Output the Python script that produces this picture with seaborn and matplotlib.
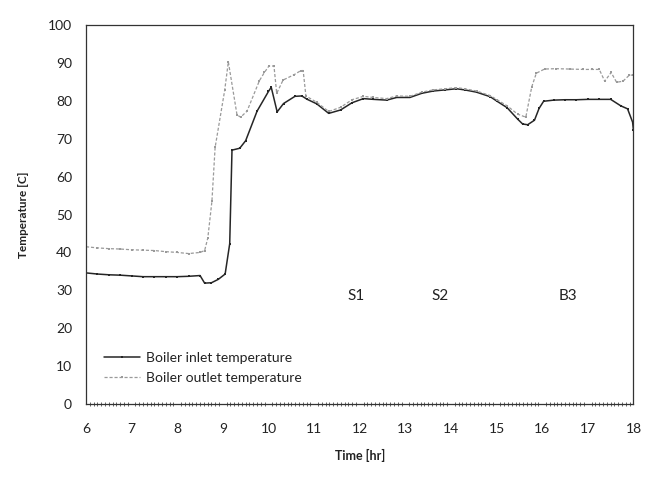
import matplotlib
matplotlib.use("Agg")
import matplotlib.pyplot as plt
from matplotlib.ticker import MultipleLocator
import numpy as np
import pandas as pd
import seaborn as sns

# Boiler inlet temperature [C] against time of day [hr]
inlet_time = [6.0, 6.25, 6.5, 6.75, 7.0, 7.25, 7.5, 7.75, 8.0, 8.25, 8.5, 8.6,
              8.75, 8.9, 9.05, 9.15, 9.2, 9.37, 9.5, 9.75, 10.0, 10.06, 10.19,
              10.33, 10.58, 10.73, 10.85, 11.06, 11.32, 11.58, 11.83, 12.08,
              12.3, 12.59, 12.81, 13.1, 13.36, 13.61, 13.87, 14.12, 14.3, 14.56,
              14.86, 15.01, 15.23, 15.46, 15.57, 15.68, 15.83, 15.93, 16.03,
              16.25, 16.5, 16.75, 17.0, 17.25, 17.5, 17.72, 17.87, 17.98, 18.0]
inlet_temp = [34.6, 34.3, 34.1, 34.0, 33.8, 33.6, 33.6, 33.6, 33.6, 33.7, 33.9, 31.9,
              32.0, 32.9, 34.3, 42.3, 67.0, 67.5, 69.5, 77.3, 82.5, 83.6, 77.1,
              79.3, 81.2, 81.3, 80.4, 79.2, 76.7, 77.6, 79.5, 80.6,
              80.4, 80.2, 80.9, 80.9, 82.0, 82.6, 82.9, 83.2, 82.9, 82.3,
              81.1, 79.9, 78.2, 75.2, 73.9, 73.7, 74.9, 78.0, 79.9,
              80.2, 80.3, 80.3, 80.4, 80.4, 80.4, 78.7, 77.9, 74.4, 72.2]

# Boiler outlet temperature [C] against time of day [hr]
outlet_time = [6.0, 6.25, 6.5, 6.75, 7.0, 7.25, 7.5, 7.75, 8.0, 8.25, 8.5, 8.6,
               8.67, 8.76, 8.83, 9.04, 9.12, 9.31, 9.39, 9.53, 9.8, 9.91, 10.01,
               10.12, 10.18, 10.32, 10.56, 10.71, 10.76, 10.82, 11.06, 11.32,
               11.58, 11.83, 12.08, 12.3, 12.59, 12.81, 13.1, 13.36, 13.61,
               13.87, 14.12, 14.3, 14.56, 14.86, 15.01, 15.23, 15.46, 15.64,
               15.77, 15.87, 16.05, 16.3, 16.6, 16.9, 17.1, 17.25, 17.37, 17.51,
               17.63, 17.77, 17.91, 18.0]
outlet_temp = [41.5, 41.2, 41.0, 40.9, 40.7, 40.6, 40.5, 40.2, 40.0, 39.7, 40.0, 40.5,
               43.8, 53.5, 67.7, 82.8, 90.3, 76.3, 75.7, 77.3, 85.3, 87.5, 89.2,
               89.2, 82.0, 85.5, 86.9, 88.0, 88.0, 81.3, 79.6, 77.2,
               78.3, 80.3, 81.2, 80.9, 80.6, 81.3, 81.2, 82.3, 82.9,
               83.2, 83.5, 83.2, 82.6, 81.4, 80.3, 78.7, 76.5, 75.7,
               83.7, 87.3, 88.4, 88.5, 88.4, 88.3, 88.3, 88.3, 85.2, 87.5,
               84.9, 85.2, 86.8, 86.8]

# Operating-mode labels placed inside the plot
mode_labels = ["S1", "S2", "B3"]
mode_x = [11.92, 13.76, 16.57]
mode_y = [28.5, 28.5, 28.5]

x_ticks = list(range(6, 19))
y_ticks = list(range(0, 101, 10))

inlet_df = pd.DataFrame({"Time": inlet_time, "Temp": inlet_temp})
outlet_df = pd.DataFrame({"Time": outlet_time, "Temp": outlet_temp})

sns.set_theme(style="white")
plt.rcParams["font.family"] = ["Lato", "DejaVu Sans"]

fig = plt.figure(figsize=(6.49, 4.79), dpi=100)
ax = fig.add_axes([0.1325, 0.1566, 0.8436, 0.791])

sns.lineplot(data=inlet_df, x="Time", y="Temp", ax=ax, color="#262626",
             linewidth=1.1, marker="s", markersize=1.8, markeredgewidth=0,
             label="Boiler inlet temperature", sort=False)
sns.lineplot(data=outlet_df, x="Time", y="Temp", ax=ax, color="#9a9a9a",
             linewidth=0.9, linestyle=(0, (2.5, 1.5)), marker="s", markersize=1.8,
             markeredgewidth=0, label="Boiler outlet temperature", sort=False)

for lab, xx, yy in zip(mode_labels, mode_x, mode_y):
    ax.text(xx, yy, lab, ha="center", va="center", fontsize=11, color="#222222")

ax.set_xlim(6, 18)
ax.set_ylim(0, 100)
ax.set_xticks(x_ticks)
ax.set_yticks(y_ticks)
ax.xaxis.set_minor_locator(MultipleLocator(1 / 12))
ax.tick_params(axis="x", which="major", direction="inout", length=4, width=0.7,
               labelsize=10, pad=12, colors="#222222")
ax.tick_params(axis="x", which="minor", direction="inout", length=2.5, width=0.5,
               bottom=True)
ax.tick_params(axis="y", which="major", direction="inout", length=4, width=0.7,
               labelsize=10, pad=8, colors="#222222")

for side in ["left", "right", "top", "bottom"]:
    ax.spines[side].set_visible(True)
    ax.spines[side].set_color("#333333")
    ax.spines[side].set_linewidth(0.9)

ax.set_xlabel("Time [hr]", fontsize=9, fontweight="bold", labelpad=10, color="#222222")
ax.set_ylabel("Temperature [C]", fontsize=8.5, fontweight="bold", labelpad=14,
              color="#222222")

leg = ax.legend(loc="lower left", bbox_to_anchor=(0.01, 0.02), frameon=False,
                fontsize=10, handlelength=2.6, handletextpad=0.4, labelspacing=0.6)
for txt in leg.get_texts():
    txt.set_color("#222222")

fig.savefig("out.png", dpi=100, facecolor="white")
